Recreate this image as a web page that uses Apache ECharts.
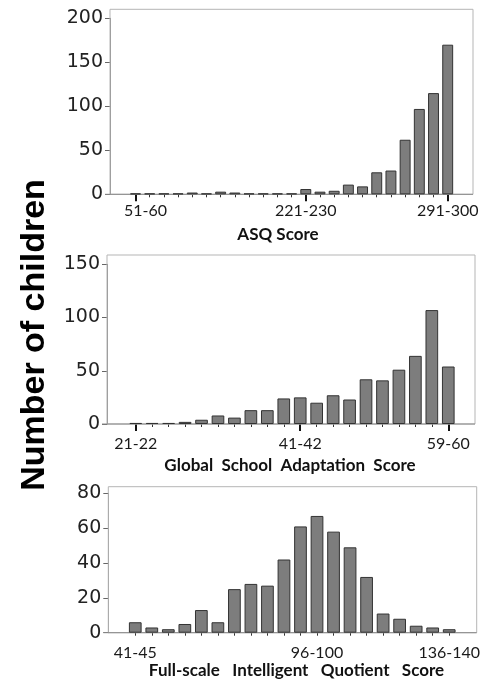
<!DOCTYPE html>
<html>
<head>
<meta charset="utf-8">
<script src="https://cdn.jsdelivr.net/npm/echarts@6/dist/echarts.min.js"></script>
<style>
html,body{margin:0;padding:0;background:#fff;}
#chart{width:483px;height:687px;}
</style>
</head>
<body>
<div id="chart"></div>
<script>
// ---- Panel 1: ASQ Score ----
const asqCategories = ['51-60','61-70','71-80','81-90','91-100','101-110','111-120','121-130','131-140','141-150','151-160','161-170','221-230','231-237','238-244','245-251','252-258','259-265','266-272','273-279','280-286','287-290','291-300'];
const asqCounts = [1,1,1,1,2,1,3,2,1,1,1,1,6,3,4,11,9,25,27,62,97,115,170];
const asqLabelIdx = [0,12,22];
const asqMajorIdx = [0,12,22];
const asqTicks = {min:0, max:200, interval:50};

// ---- Panel 2: Global School Adaptation Score ----
const gsaCategories = ['21-22','23-24','25-26','27-28','29-30','31-32','33-34','35-36','37-38','39-40','41-42','43-44','45-46','47-48','49-50','51-52','53-54','55-56','57-58','59-60'];
const gsaCounts = [1,1,1,2,4,8,6,13,13,24,25,20,27,23,42,41,51,64,107,54];
const gsaLabelIdx = [0,10,19];
const gsaMajorIdx = [0,10,19];
const gsaTicks = {min:0, max:150, interval:50};

// ---- Panel 3: Full-scale IQ Score ----
const iqCategories = ['41-45','46-50','51-55','56-60','61-65','66-70','71-75','76-80','81-85','86-90','91-95','96-100','101-105','106-110','111-115','116-120','121-125','126-130','131-135','136-140'];
const iqCounts = [6,3,2,5,13,6,25,28,27,42,61,67,58,49,32,11,8,4,3,2];
const iqLabelIdx = [0,11,19];
const iqMajorIdx = [];
const iqTicks = {min:0, max:80, interval:20};

const yAxisName = 'Number of children';
const xTitles = ['ASQ Score', 'Global  School  Adaptation  Score', 'Full-scale   Intelligent   Quotient   Score'];

const panels = [
  {cats: asqCategories, vals: asqCounts, labels: asqLabelIdx, majors: asqMajorIdx, ticks: asqTicks,
   grid: {left:128.4, top:18.3, width:326.4, height:176}, yOffset:18.4, yMargin:7, xMargin:9,
   frame: {x:110, y:9.3, w:363, h:185}, title: {x:278, y:234.5}, firstPad:20},
  {cats: gsaCategories, vals: gsaCounts, labels: gsaLabelIdx, majors: gsaMajorIdx, ticks: gsaTicks,
   grid: {left:127.5, top:264.3, width:329, height:159.7}, yOffset:20.5, yMargin:7, xMargin:12,
   frame: {x:107, y:255, w:368, h:169}, title: {x:290, y:466}, firstPad:0},
  {cats: iqCategories, vals: iqCounts, labels: iqLabelIdx, majors: iqMajorIdx, ticks: iqTicks,
   grid: {left:127, top:493.3, width:331, height:139.4}, yOffset:18.7, yMargin:7, xMargin:12,
   frame: {x:108.3, y:486.7, w:368.4, h:146}, title: {x:296.5, y:671}, firstPad:0}
];

const grids = [], xAxes = [], yAxes = [], series = [], graphics = [];
panels.forEach((p, k) => {
  grids.push({left:p.grid.left, top:p.grid.top, width:p.grid.width, height:p.grid.height, containLabel:false});
  // minor tick axis (bars attach here)
  xAxes.push({
    type:'category', gridIndex:k, data:p.cats, position:'bottom',
    axisLine:{show:false},
    axisTick:{show:true, alignWithLabel:true, interval:0, length:3, lineStyle:{color:'#333', width:1}},
    axisLabel:{show:false}, splitLine:{show:false}
  });
  // major tick + label axis
  xAxes.push({
    type:'category', gridIndex:k, data:p.cats, position:'bottom',
    axisLine:{show:false},
    axisTick:{show:p.majors.length>0, alignWithLabel:true,
      interval:(i)=>p.majors.indexOf(i) >= 0, length:7, lineStyle:{color:'#111', width:2}},
    axisLabel:{
      show:true, interval:(i)=>p.labels.indexOf(i) >= 0, margin:p.xMargin,
      fontFamily:'Lato', fontSize:16, color:'#1a1a1a',
      formatter:(v, i) => (i === 0 && p.firstPad) ? '{f|' + v + '}' : v,
      rich:{f:{fontFamily:'Lato', fontSize:16, color:'#1a1a1a', padding:[0,0,0,p.firstPad]}}
    },
    splitLine:{show:false}
  });
  yAxes.push({
    type:'value', gridIndex:k, min:p.ticks.min, max:p.ticks.max, interval:p.ticks.interval,
    offset:p.yOffset,
    axisLine:{show:true, onZero:false, lineStyle:{color:'#888', width:1}},
    axisTick:{show:true, inside:false, length:5, lineStyle:{color:'#666'}},
    axisLabel:{margin:p.yMargin, fontFamily:'DejaVu Sans', fontSize:19, color:'#222'},
    splitLine:{show:false}
  });
  series.push({
    type:'bar', xAxisIndex:2*k, yAxisIndex:k, data:p.vals,
    barCategoryGap:'23%',
    itemStyle:{color:'#7d7d7d', borderColor:'#333', borderWidth:1},
    z:3
  });
  graphics.push({
    type:'rect', z:1, silent:true,
    shape:{x:p.frame.x, y:p.frame.y, width:p.frame.w, height:p.frame.h},
    style:{fill:'none', stroke:'#b5b5b5', lineWidth:1}
  });
  graphics.push({
    type:'line', z:2, silent:true,
    shape:{x1:p.frame.x - 5, y1:p.frame.y + p.frame.h, x2:p.frame.x + p.frame.w, y2:p.frame.y + p.frame.h},
    style:{stroke:'#8a8a8a', lineWidth:1}
  });
  graphics.push({
    type:'text', z:5, silent:true, x:p.title.x, y:p.title.y,
    style:{text:xTitles[k], fontFamily:'Lato', fontWeight:'bold', fontSize:17, fill:'#111',
      align:'center', verticalAlign:'middle'}
  });
});

graphics.push({
  type:'text', z:5, silent:true, x:35, y:335, rotation:Math.PI/2,
  style:{text:yAxisName, fontFamily:'Liberation Sans', fontWeight:'bold', fontSize:34, fill:'#000',
    align:'center', verticalAlign:'middle'}
});

const chart = echarts.init(document.getElementById('chart'), null, {renderer:'canvas'});
chart.setOption({
  animation:false,
  backgroundColor:'#fff',
  grid:grids, xAxis:xAxes, yAxis:yAxes, series:series, graphic:graphics
});
</script>
</body>
</html>
